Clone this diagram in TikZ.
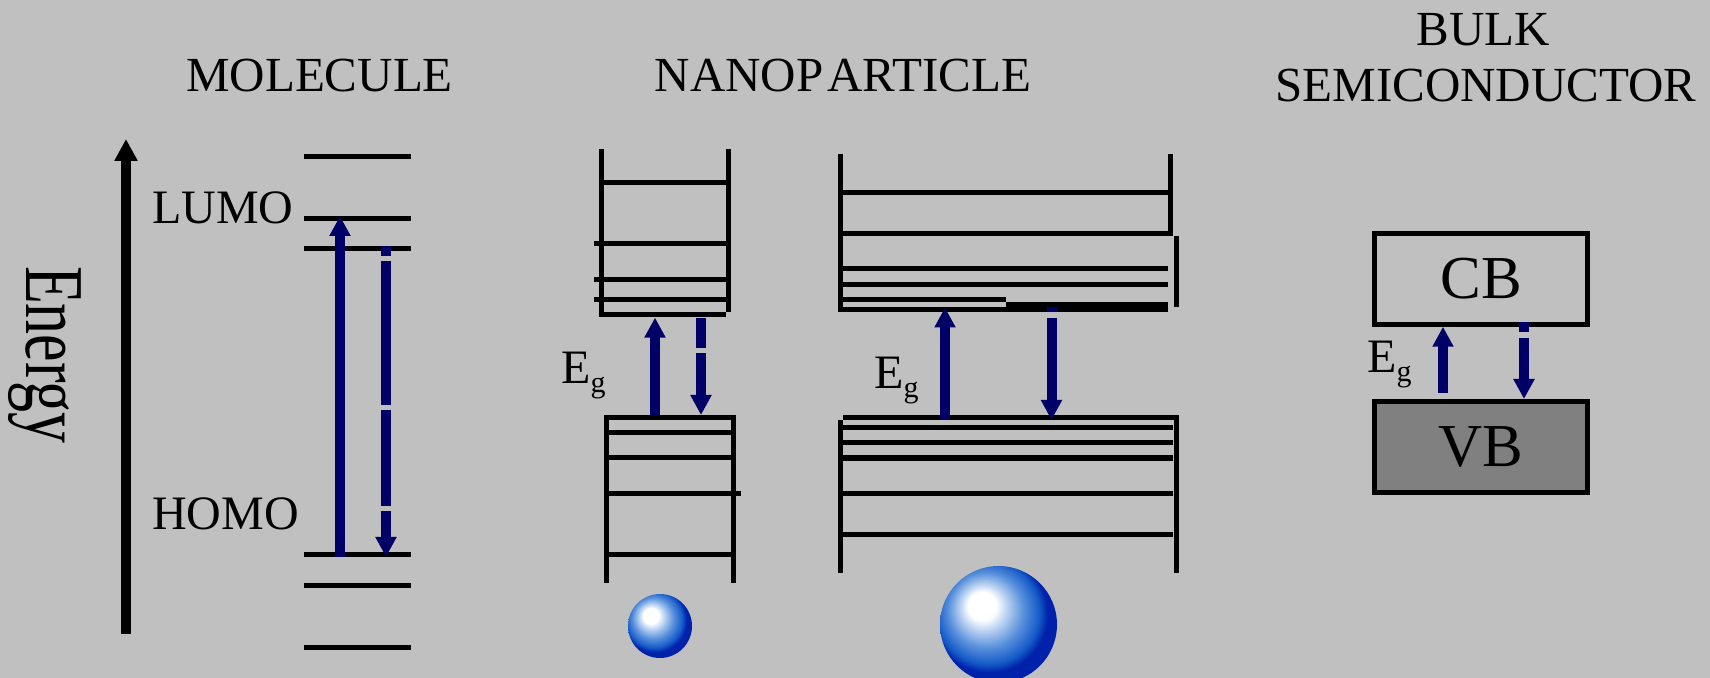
\documentclass[tikz,border=0pt]{standalone}
\usepackage{fontspec}
\setmainfont{Liberation Serif}
\usetikzlibrary{arrows.meta}

\definecolor{bggray}{RGB}{192,192,192}
\definecolor{vbgray}{RGB}{128,128,128}
\definecolor{navy}{RGB}{0,0,102}
\definecolor{sphedge}{RGB}{0,34,170}
\definecolor{sphblue}{RGB}{20,90,200}
\definecolor{sphmid}{RGB}{90,145,220}
\definecolor{sphlight}{RGB}{185,210,242}

% glossy blue particle
\pgfdeclareradialshading{sphereshade}{\pgfpoint{-8bp}{9bp}}{%
  color(0bp)=(white); color(6bp)=(white); color(10bp)=(sphlight);
  color(16bp)=(sphmid); color(22bp)=(sphblue); color(25bp)=(sphedge);
  color(50bp)=(sphedge)}

\tikzset{
  level/.style={line width=2.5pt},
  axisline/.style={line width=5pt, -{Triangle[width=11pt,length=11pt]}},
  excite/.style={navy, line width=5pt, -{Triangle[width=10pt,length=10pt]}},
  relax/.style={excite},
  title/.style={font=\fontsize{24.5pt}{29pt}\selectfont, inner sep=0pt},
  lab/.style={font=\fontsize{24pt}{28pt}\selectfont, inner sep=0pt},
  band/.style={draw, line width=2.5pt, minimum width=106.5pt,
    minimum height=45.5pt, inner sep=0pt, font=\fontsize{30.5pt}{36pt}\selectfont},
  gaplab/.style={font=\fontsize{24pt}{28pt}\selectfont, inner sep=0pt, anchor=base west},
  particle/.style={shading=sphereshade},
}
\newcommand\gsub{\raisebox{-4.2pt}{\fontsize{15pt}{18pt}\selectfont g}}

\begin{document}
\begin{tikzpicture}[x=0.5pt,y=-0.5pt]
  % canvas
  \fill[bggray] (0,0) rectangle (1710,678);
  \useasboundingbox (0,0) rectangle (1710,678);

  % ---------- titles ----------
  \node[title] (tmol) at (319.5,75.3) {MOLECULE};
  \node[title] (tnano) at (843,75.3) {NANOP\kern2pt ARTICLE};
  \node[title] (tbulk) at (1483.5,30) {BULK};
  \node[title] (tsemi) at (1486,86) {SEMICONDUCTOR};

  % ---------- energy axis ----------
  \coordinate (ebot) at (126,634);
  \coordinate (etop) at (126,139);
  \draw[axisline] (ebot) -- (etop);
  \node[rotate=-90, inner sep=0pt, font=\fontsize{31pt}{36pt}\selectfont]
    (energy) at (45,355) {\scalebox{1}[1.35]{Energy}};

  % ---------- molecule ----------
  \foreach \yy in {157,218.5,248.7,554.7,585.8,647.5}
    \draw[level] (304,\yy) -- (411,\yy);
  \node[lab] (lumo) at (223,208) {LUMO};
  \node[lab] (homo) at (225.5,514) {HOMO};
  \coordinate (mupS) at (340,557);
  \coordinate (mupE) at (340,216);
  \coordinate (mdnS) at (386,246);
  \coordinate (mdnE) at (386,557);
  \draw[excite] (mupS) -- (mupE);
  \draw[relax, dash pattern=on 5pt off 2.5pt on 72pt off 2.5pt on 48pt off 2.5pt on 200pt]
    (mdnS) -- (mdnE);

  % ---------- small nanoparticle ----------
  \draw[level] (601.5,149) -- (601.5,317);
  \draw[level] (728.5,149) -- (728.5,312.4);
  \draw[level] (604,182.6) -- (726,182.6);
  \foreach \yy in {244,279.4,300}
    \draw[level] (594,\yy) -- (726,\yy);
  \draw[level] (599,314.8) -- (726,314.8);
  \draw[level] (604,417.6) -- (736,417.6);
  \draw[level] (606.5,415) -- (606.5,583.5);
  \draw[level] (733.5,415) -- (733.5,583.5);
  \foreach \yy in {432.4,458,554.6}
    \draw[level] (609,\yy) -- (731,\yy);
  \draw[level] (609,493.7) -- (741,493.7);
  \coordinate (supS) at (655,415);
  \coordinate (supE) at (655,317.6);
  \coordinate (sdnS) at (701,318);
  \coordinate (sdnE) at (701,415);
  \draw[excite] (supS) -- (supE);
  \draw[relax, dash pattern=on 15.25pt off 2.5pt on 200pt] (sdnS) -- (sdnE);
  \node[gaplab] (egs) at (561,384) {E\gsub};
  \shade[particle] (660,626) circle [radius=32];

  % ---------- large nanoparticle ----------
  \draw[level] (840.5,154) -- (840.5,312.4);
  \draw[level] (1170.5,154) -- (1170.5,236);
  \draw[level] (1176,236) -- (1176,307.5);
  \foreach \yy in {192.8,269,285}
    \draw[level] (843,\yy) -- (1168,\yy);
  \draw[level] (843,234) -- (1173,234);
  \draw[level] (843,300) -- (1006,300);
  \draw[level] (1006,305) -- (1168,305);
  \draw[level] (838,310) -- (1168,310);
  \draw[level] (843,417.6) -- (1179,417.6);
  \draw[level] (840.5,420) -- (840.5,572.6);
  \draw[level] (1176,415) -- (1176,572.6);
  \foreach \yy in {427.5,442.5,493.7,535}
    \draw[level] (843,\yy) -- (1173,\yy);
  \draw[line width=3pt] (843,458) -- (1173,458);
  \coordinate (lupS) at (945,420);
  \coordinate (lupE) at (945,307.5);
  \coordinate (ldnS) at (1051.5,307.5);
  \coordinate (ldnE) at (1051.5,420);
  \draw[excite] (lupS) -- (lupE);
  \draw[relax, dash pattern=on 2.5pt off 2.6pt on 200pt] (ldnS) -- (ldnE);
  \node[gaplab] (egl) at (874,389) {E\gsub};
  \shade[particle] (998.5,624.5) circle [radius=58.5];

  % ---------- bulk semiconductor ----------
  \node[band] (cb) at (1481,278.75) {CB};
  \node[band, fill=vbgray] (vb) at (1481,447) {VB};
  \coordinate (bup) at (1443,392.7);
  \coordinate (bdn) at (1524,321.7);
  \draw[excite] (bup) -- (bup |- cb.south);
  \draw[relax, dash pattern=on 5pt off 3.2pt on 200pt] (bdn) -- (bdn |- vb.north);
  \node[gaplab] (egb) at (1367,373) {E\gsub};
\end{tikzpicture}
\end{document}
